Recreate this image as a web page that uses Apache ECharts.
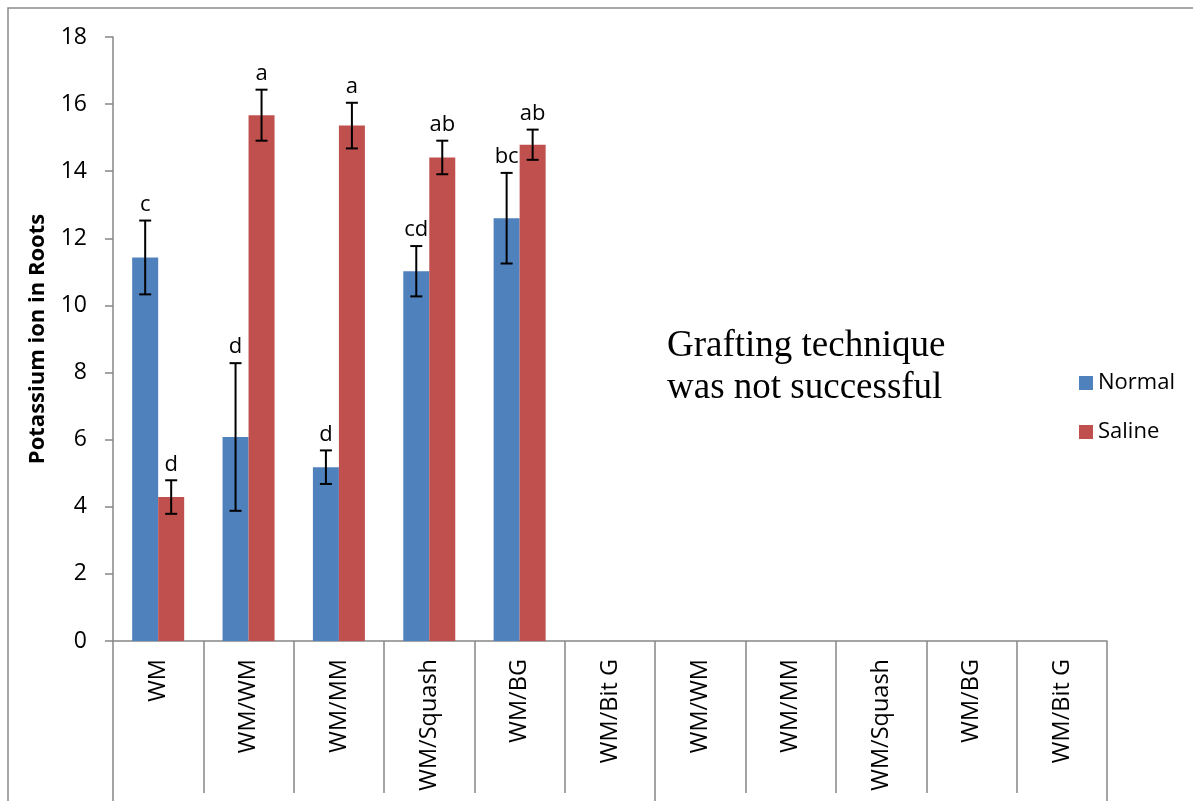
<!DOCTYPE html>
<html>
<head>
<meta charset="utf-8">
<title>Potassium ion in Roots</title>
<script src="https://cdn.jsdelivr.net/npm/echarts@6/dist/echarts.min.js"></script>
<style>
  html, body { margin: 0; padding: 0; background: #ffffff; }
  #chart { width: 1193px; height: 801px; }
</style>
</head>
<body>
<div id="chart"></div>
<script>
// Grafting combinations (scion/rootstock)
const categories = ['WM', 'WM/WM', 'WM/MM', 'WM/Squash', 'WM/BG', 'WM/Bit G',
                    'WM/WM', 'WM/MM', 'WM/Squash', 'WM/BG', 'WM/Bit G'];

// Mean potassium content in roots
const normalValues = [11.43, 6.08, 5.18, 11.02, 12.60];
const salineValues = [4.29, 15.67, 15.36, 14.41, 14.79];

// Standard error of each mean
const normalErrors = [1.10, 2.20, 0.50, 0.75, 1.35];
const salineErrors = [0.50, 0.76, 0.68, 0.50, 0.45];

// Significance letters
const normalLetters = ['c', 'd', 'd', 'cd', 'bc'];
const salineLetters = ['d', 'a', 'a', 'ab', 'ab'];

const yTicks = { min: 0, max: 18, interval: 2 };
const note = 'Grafting technique\nwas not successful';

const BLUE = '#4F81BD';
const RED = '#C0504D';
const AXIS = '#878787';
const FONT = '"Open Sans", "Noto Sans", sans-serif';
const BAR_W = 26;

function padded(values) {
  return categories.map((_, i) => (i < values.length ? values[i] : null));
}

function errorRows(values, errors) {
  return values.map((v, i) => [i, v, errors[i]]);
}

// Error bar with cap lines plus the significance letter above it
function errorBarRenderer(letters, shift) {
  return function (params, api) {
    const i = api.value(0);
    const v = api.value(1);
    const e = api.value(2);
    const hi = api.coord([i, v + e]);
    const lo = api.coord([i, v - e]);
    const x = hi[0] + shift;
    const cap = 6;
    const stroke = { stroke: '#000', lineWidth: 2 };
    return {
      type: 'group',
      children: [
        { type: 'line', shape: { x1: x, y1: hi[1], x2: x, y2: lo[1] }, style: stroke },
        { type: 'line', shape: { x1: x - cap, y1: hi[1], x2: x + cap, y2: hi[1] }, style: stroke },
        { type: 'line', shape: { x1: x - cap, y1: lo[1], x2: x + cap, y2: lo[1] }, style: stroke },
        {
          type: 'text',
          style: {
            text: letters[params.dataIndex],
            x: x,
            y: hi[1] - 5,
            align: 'center',
            verticalAlign: 'bottom',
            font: '22px ' + FONT,
            fill: '#000'
          }
        }
      ]
    };
  };
}

const chart = echarts.init(document.getElementById('chart'), null, { renderer: 'canvas' });

chart.setOption({
  backgroundColor: '#ffffff',
  animation: false,
  grid: {
    left: 113, right: 86, top: 37, bottom: 160,
    containLabel: false,
    outerBoundsMode: 'none'
  },
  legend: {
    orient: 'vertical',
    left: 1074,
    top: 367,
    itemWidth: 14,
    itemHeight: 14,
    itemGap: 27,
    icon: 'rect',
    textStyle: { fontFamily: FONT, fontSize: 22, color: '#000' },
    data: ['Normal', 'Saline']
  },
  xAxis: [
    {
      type: 'category',
      position: 'bottom',
      data: categories,
      axisLine: { show: true, lineStyle: { color: AXIS, width: 1.5 } },
      axisTick: { show: true, length: 152, lineStyle: { color: AXIS, width: 1.5 } },
      axisLabel: {
        rotate: 90,
        interval: 0,
        margin: 18,
        fontFamily: FONT,
        fontSize: 23.5,
        color: '#000'
      },
      splitLine: { show: false }
    },
    {
      // second level of the category axis: group separators
      type: 'category',
      position: 'bottom',
      data: categories,
      axisLine: { show: false },
      axisTick: {
        show: true,
        length: 180,
        interval: (idx) => idx === 0 || idx === 6,
        lineStyle: { color: AXIS, width: 1.5 }
      },
      axisLabel: { show: false },
      splitLine: { show: false }
    }
  ],
  yAxis: {
    type: 'value',
    min: yTicks.min,
    max: yTicks.max,
    interval: yTicks.interval,
    name: 'Potassium ion in Roots',
    nameLocation: 'middle',
    nameGap: 64,
    nameTextStyle: { fontFamily: FONT, fontSize: 22, fontWeight: 'bold', color: '#000' },
    axisLine: { show: true, lineStyle: { color: AXIS, width: 1.5 } },
    axisTick: { show: true, inside: false, length: 8, lineStyle: { color: AXIS, width: 1.5 } },
    axisLabel: { margin: 26, fontFamily: FONT, fontSize: 23, color: '#000' },
    splitLine: { show: false }
  },
  graphic: [
    {
      type: 'rect',
      shape: { x: 8, y: 8, width: 1200, height: 820 },
      style: { fill: 'none', stroke: '#8a8a8a', lineWidth: 1.5 },
      silent: true,
      z: -1
    },
    {
      type: 'text',
      x: 667,
      y: 325,
      style: {
        text: note,
        font: '37px "Liberation Serif", "Times New Roman", serif',
        lineHeight: 42,
        fill: '#000'
      }
    }
  ],
  series: [
    {
      name: 'Normal',
      type: 'bar',
      barWidth: BAR_W,
      barGap: '0%',
      itemStyle: { color: BLUE },
      data: padded(normalValues)
    },
    {
      name: 'Saline',
      type: 'bar',
      barWidth: BAR_W,
      barGap: '0%',
      itemStyle: { color: RED },
      data: padded(salineValues)
    },
    {
      name: 'Normal error',
      type: 'custom',
      clip: false,
      z: 5,
      renderItem: errorBarRenderer(normalLetters, -BAR_W / 2),
      encode: { x: 0, y: 1 },
      data: errorRows(normalValues, normalErrors)
    },
    {
      name: 'Saline error',
      type: 'custom',
      clip: false,
      z: 5,
      renderItem: errorBarRenderer(salineLetters, BAR_W / 2),
      encode: { x: 0, y: 1 },
      data: errorRows(salineValues, salineErrors)
    }
  ]
});
</script>
</body>
</html>
